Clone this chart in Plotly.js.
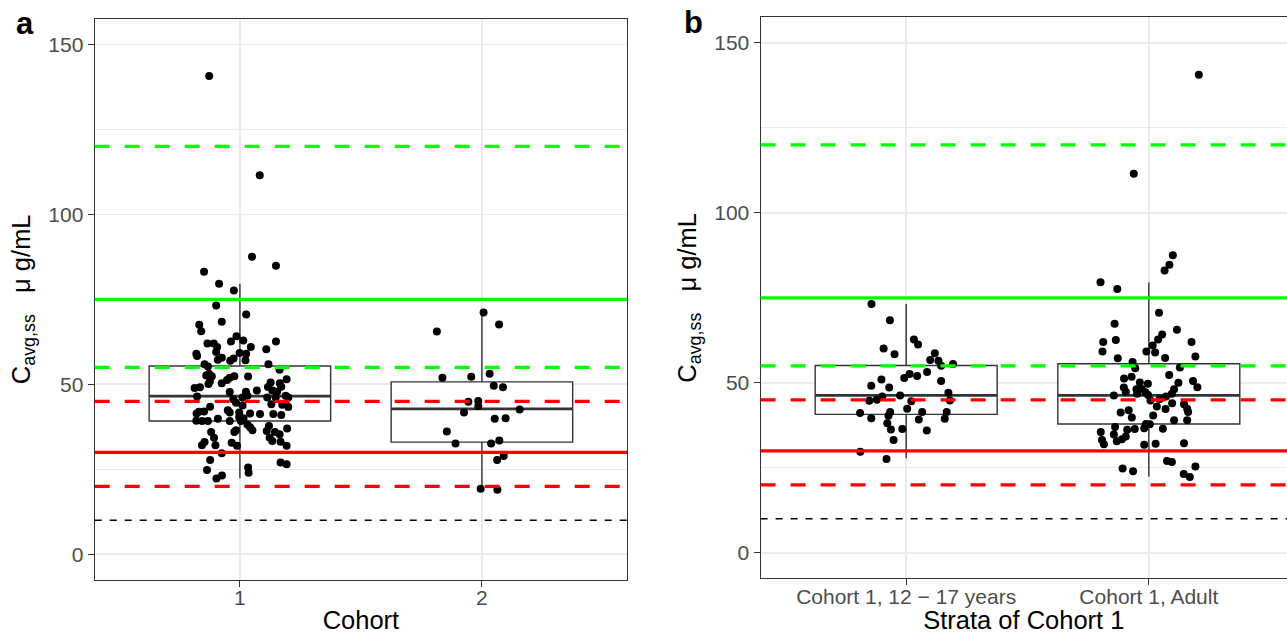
<!DOCTYPE html>
<html>
<head>
<meta charset="utf-8">
<script src="https://cdn.plot.ly/plotly-3.0.1.min.js"></script>
<style>html,body{margin:0;padding:0;background:#fff;}#chart{width:1287px;height:634px;}</style>
</head>
<body>
<div id="chart"></div>
<script>
// ---------- data ----------
const cohortCats = [1, 2];
const cohortLabels = ['1', '2'];
const strataCats = [1, 2];
const strataLabels = ['Cohort 1, 12 \u2212 17 years', 'Cohort 1, Adult'];

// box statistics
const cohortQ1 = [39.2, 33.0];
const cohortMedian = [46.5, 42.8];
const cohortQ3 = [55.4, 50.7];
const cohortLower = [22.4, 19.2];
const cohortUpper = [79.6, 71.1];

const strataQ1 = [40.7, 37.9];
const strataMedian = [46.3, 46.3];
const strataQ3 = [55.1, 55.6];
const strataLower = [27.8, 22.4];
const strataUpper = [73.2, 79.5];

// reference lines
const refValues = [120, 75, 55, 45, 30, 20, 10];
const refKinds = ['greenDash', 'greenSolid', 'greenDash', 'redDash', 'redSolid', 'redDash', 'blackDash'];

// jittered points, panel a, cohort 1
const cohort1X = [1.05,1.149,0.852,0.914,0.975,0.902,1.026,0.925,0.832,0.84,0.986,1.014,0.963,0.866,0.892,1.149,1.045,0.906,0.999,1.026,1.109,0.82,0.823,0.902,0.925,0.909,0.96,0.974,1.023,1.118,0.868,0.854,1.164,0.872,0.861,0.884,0.977,1.034,0.958,1.193,0.876,0.947,1.127,1.165,0.925,0.87,0.813,0.835,1.116,1.171,1.07,0.958,1.025,1.134,1.154,0.823,1.031,1.189,1.2,1.113,1.148,0.973,1.011,0.984,1.011,1.13,1.175,1.2,0.877,0.95,0.831,0.821,0.852,0.958,0.997,1.042,1.083,1.138,1.171,0.997,0.909,1.015,0.82,0.844,0.868,0.958,1.004,1.031,1.042,1.12,1.195,1.052,1.111,0.984,0.977,0.881,1.145,1.164,0.893,1.123,1.134,1.168,0.854,0.843,0.966,0.899,0.988,1.193,0.925,0.877,1.168,1.193,0.864,1.034,1.036,0.926,0.903,0.873,1.082];
const cohort1Y = [87.5,84.9,83.1,79.6,77.6,73.2,70.5,68.4,67.5,65.6,64.1,62.9,62.6,62.0,62.0,62.6,61.0,61.0,59.2,59.0,60.3,59.0,58.3,59.5,57.8,57.2,56.9,57.6,57.1,55.9,55.2,55.9,54.3,53.1,52.6,52.4,52.4,52.3,51.9,51.5,50.8,51.3,50.5,50.3,50.3,50.1,48.9,49.1,49.2,49.3,48.2,47.7,47.8,48.2,47.9,46.4,46.6,46.6,46.1,46.1,46.1,45.6,46.1,44.6,43.8,44.1,44.0,43.3,43.4,42.4,41.9,41.4,42.0,41.7,41.7,41.4,41.3,41.3,41.0,40.4,39.9,40.0,39.3,39.2,39.2,39.2,39.2,38.2,37.4,37.7,37.0,36.5,36.3,36.5,36.0,36.0,36.0,35.3,34.3,34.3,33.3,33.1,33.0,32.1,32.8,32.1,31.9,31.9,29.7,27.7,27.0,26.5,24.8,25.5,24.0,23.2,22.3,140.7,111.5];

// panel a, cohort 2
const cohort2X = [2.007,2.071,1.814,1.837,1.956,2.032,2.049,2.087,1.944,1.985,1.985,2.156,1.926,2.053,2.098,1.855,1.891,2.038,2.072,2.09,2.063,1.995,2.064];
const cohort2Y = [71.1,67.6,65.5,51.9,52.2,53.1,49.6,49.1,44.9,45.1,43.6,42.6,41.7,39.9,40.0,36.1,32.6,32.6,33.5,28.9,27.7,19.3,19.0];

// panel b, 12 - 17 years
const stratum1X = [0.857,0.933,1.032,1.049,0.907,0.952,1.118,1.099,1.133,1.144,1.193,1.086,1.014,1.045,0.992,0.898,1.144,0.856,0.93,1.174,0.975,0.901,0.879,0.848,1.021,1.18,1.004,0.81,0.934,1.066,1.167,0.856,0.927,1.052,1.159,0.922,0.937,0.984,1.085,0.948,0.811,0.919];
const stratum1Y = [73.2,68.4,62.7,61.3,60.1,58.4,58.7,56.7,56.5,55.0,55.5,53.2,52.6,52.0,51.4,51.0,50.5,49.1,48.6,47.1,46.3,46.0,45.0,44.7,44.6,44.8,42.4,41.1,41.4,41.4,41.4,39.6,40.3,39.2,39.4,38.1,36.3,36.4,36.0,33.2,29.7,27.6];

// panel b, Adult
const stratum2X = [2.099,2.085,2.065,1.801,1.87,2.042,1.859,2.116,2.055,2.038,1.812,1.864,2.176,2.016,1.809,1.99,2.026,2.192,1.872,2.067,1.933,1.944,2.128,2.084,1.929,1.898,2.182,2.122,1.963,1.996,2.2,1.897,1.949,2.104,1.971,1.905,1.986,1.952,2.095,1.856,1.997,2.071,2.007,2.045,2.096,2.033,2.069,2.145,2.158,2.162,1.884,1.917,1.93,2.018,2.104,2.158,1.988,2.004,1.981,1.942,1.861,1.911,2.058,1.802,1.856,1.905,1.807,1.868,1.889,1.815,1.981,2.028,2.145,2.075,2.095,1.892,1.935,2.192,2.144,2.169,2.206,1.938];
const stratum2Y = [87.5,84.7,83.0,79.6,77.6,70.6,67.4,65.6,64.2,62.7,62.0,62.6,62.0,61.0,59.2,59.2,58.9,57.7,57.2,57.3,56.1,54.3,54.5,52.3,51.8,51.3,50.5,50.0,50.1,49.7,48.7,48.6,48.1,48.1,48.2,47.4,47.2,46.8,46.8,46.3,46.4,46.0,44.8,45.2,44.0,43.0,42.3,43.7,42.4,41.4,41.3,41.9,39.8,40.4,39.0,39.0,37.9,37.8,36.6,36.4,37.0,36.2,36.5,35.5,34.8,34.2,33.2,32.8,33.4,31.9,31.8,32.1,32.2,27.0,26.7,24.8,24.0,25.4,23.2,22.3,140.6,111.5];

// ---------- styles ----------
const FONT = 'Liberation Sans, Arial, Helvetica, sans-serif';
const DARK = '#333333';
const GRID = '#EBEBEB';
const BOX_WIDTH = 0.75;
const refStyle = {
  greenDash: {color: '#00FF00', width: 3.2, dash: '15px,15px'},
  greenSolid: {color: '#00FF00', width: 3.2, dash: 'solid'},
  redDash: {color: '#FF0000', width: 3.2, dash: '15px,15px'},
  redSolid: {color: '#FF0000', width: 3.2, dash: 'solid'},
  blackDash: {color: '#000000', width: 1.5, dash: '7px,8px'}
};

function boxTrace(cats, q1, med, q3, lo, hi, xa, ya) {
  return {
    type: 'box', x: cats, q1: q1, median: med, q3: q3,
    lowerfence: lo, upperfence: hi,
    xaxis: xa, yaxis: ya, width: BOX_WIDTH, whiskerwidth: 0,
    boxpoints: false, fillcolor: '#FFFFFF',
    line: {color: DARK, width: 1.4}, hoverinfo: 'skip', showlegend: false
  };
}
function medianTrace(cats, med, xa, ya) {
  const xs = [], ys = [];
  cats.forEach((c, i) => {
    xs.push(c - BOX_WIDTH / 2, c + BOX_WIDTH / 2, null);
    ys.push(med[i], med[i], null);
  });
  return {type: 'scatter', mode: 'lines', x: xs, y: ys, xaxis: xa, yaxis: ya,
    line: {color: DARK, width: 2.8}, hoverinfo: 'skip', showlegend: false};
}
function pointTrace(xs, ys, xa, ya) {
  return {type: 'scatter', mode: 'markers', x: xs, y: ys, xaxis: xa, yaxis: ya,
    marker: {color: '#000000', size: 8, line: {width: 0}}, hoverinfo: 'skip', showlegend: false};
}

const traces = [
  boxTrace(cohortCats, cohortQ1, cohortMedian, cohortQ3, cohortLower, cohortUpper, 'x', 'y'),
  medianTrace(cohortCats, cohortMedian, 'x', 'y'),
  pointTrace(cohort1X, cohort1Y, 'x', 'y'),
  pointTrace(cohort2X, cohort2Y, 'x', 'y'),
  boxTrace(strataCats, strataQ1, strataMedian, strataQ3, strataLower, strataUpper, 'x2', 'y2'),
  medianTrace(strataCats, strataMedian, 'x2', 'y2'),
  pointTrace(stratum1X, stratum1Y, 'x2', 'y2'),
  pointTrace(stratum2X, stratum2Y, 'x2', 'y2')
];

const shapes = [];
[['x domain', 'y'], ['x2 domain', 'y2']].forEach(([xr, yr]) => {
  refValues.forEach((v, i) => {
    const s = refStyle[refKinds[i]];
    shapes.push({type: 'line', xref: xr, yref: yr, x0: 0, x1: 1, y0: v, y1: v,
      layer: 'above', line: {color: s.color, width: s.width, dash: s.dash}});
  });
});

const W = 1287, H = 634;
const yTitle = 'C<sub>avg,ss</sub>\u00A0\u00A0\u00A0\u03BC g/mL';

function xAxis(domain, range, labels, title) {
  return {
    domain: domain, range: range, tickmode: 'array', tickvals: [1, 2], ticktext: labels,
    showgrid: true, gridcolor: GRID, gridwidth: 1.6, zeroline: false,
    showline: true, linecolor: DARK, linewidth: 1.1, mirror: true,
    ticks: 'outside', ticklen: 6, tickwidth: 1.1, tickcolor: DARK,
    ticklabelstandoff: -7,
    tickfont: {family: FONT, size: 21, color: '#4D4D4D'},
    title: {text: title, font: {family: FONT, size: 25.5, color: '#000000'}, standoff: 20},
    automargin: false, fixedrange: true
  };
}
function yAxis(domain, anchor, mirror) {
  return {
    domain: domain, anchor: anchor, range: [-7.5, 157.5], tickmode: 'array', tickvals: [0, 50, 100, 150],
    showgrid: true, gridcolor: GRID, gridwidth: 1.6, zeroline: false,
    minor: {tickmode: 'array', tickvals: [25, 75, 125], showgrid: true, gridcolor: GRID, gridwidth: 1, ticks: ''},
    showline: true, linecolor: DARK, linewidth: 1.1, mirror: mirror,
    ticks: 'outside', ticklen: 6, tickwidth: 1.1, tickcolor: DARK,
    tickfont: {family: FONT, size: 21, color: '#4D4D4D'},
    title: {text: yTitle, font: {family: FONT, size: 25.5, color: '#000000'}, standoff: 10},
    automargin: false, fixedrange: true
  };
}

const layout = {
  width: W, height: H,
  margin: {l: 0, r: 0, t: 0, b: 0, pad: 0},
  paper_bgcolor: '#FFFFFF', plot_bgcolor: '#FFFFFF',
  showlegend: false,
  font: {family: FONT},
  xaxis: Object.assign(xAxis([94.7 / W, 627.1 / W], [0.4, 2.6], cohortLabels, 'Cohort'), {anchor: 'y'}),
  yaxis: yAxis([(H - 579.8) / H, (H - 18.8) / H], 'x', true),
  xaxis2: Object.assign(xAxis([760.6 / W, 1], [0.4, 2.5695], strataLabels, 'Strata of Cohort 1'), {anchor: 'y2'}),
  yaxis2: yAxis([(H - 578.3) / H, (H - 17.3) / H], 'x2', false),
  shapes: shapes,
  annotations: [
    {text: '<b>a</b>', xref: 'paper', yref: 'paper', x: 14 / W, y: 1 - 24 / H, xanchor: 'left', yanchor: 'middle',
      showarrow: false, font: {family: FONT, size: 31, color: '#000000'}},
    {text: '<b>b</b>', xref: 'paper', yref: 'paper', x: 682 / W, y: 1 - 22 / H, xanchor: 'left', yanchor: 'middle',
      showarrow: false, font: {family: FONT, size: 31, color: '#000000'}}
  ]
};

Plotly.newPlot('chart', traces, layout, {displayModeBar: false, staticPlot: true});
</script>
</body>
</html>
